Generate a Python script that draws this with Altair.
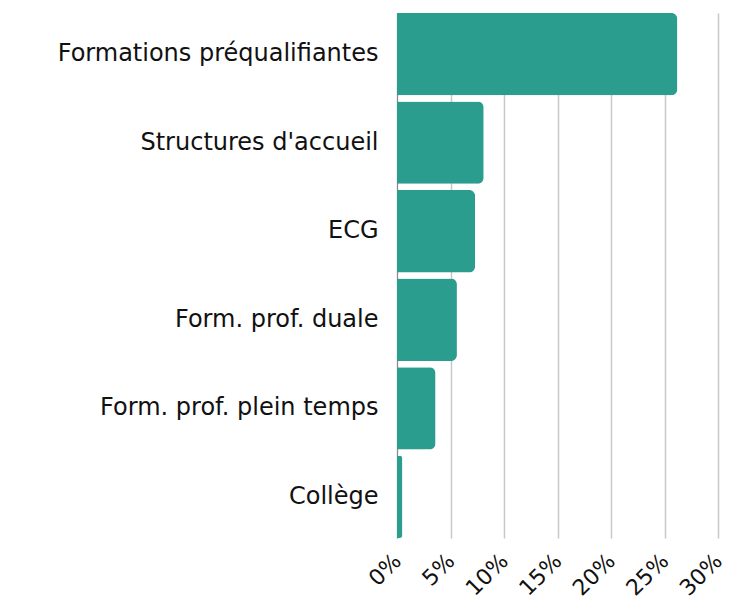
import altair as alt
import pandas as pd

categories = ["Formations préqualifiantes", "Structures d'accueil", "ECG",
              "Form. prof. duale", "Form. prof. plein temps", "Collège"]
values = [0.262, 0.081, 0.073, 0.056, 0.036, 0.005]

df = pd.DataFrame({"cat": categories, "val": values})

font = "DejaVu Sans"

chart = alt.Chart(df).mark_bar(color="#2a9d8f", cornerRadiusEnd=6).encode(
    y=alt.Y("cat:N", sort=categories, title=None,
            scale=alt.Scale(paddingInner=0.07, paddingOuter=0),
            axis=alt.Axis(labelFont=font, labelFontSize=24, labelColor="#111111",
                          labelPadding=19, ticks=False, domain=True, domainColor="#888888",
                          labelLimit=400)),
    x=alt.X("val:Q", title=None,
            scale=alt.Scale(domain=[0, 0.3]),
            axis=alt.Axis(format=".0%", values=[0, 0.05, 0.1, 0.15, 0.2, 0.25, 0.3],
                          labelAngle=-45, labelFont=font, labelFontSize=22, labelColor="#111111",
                          labelAlign="right", labelBaseline="middle", labelPadding=19,
                          labelOffset=0, labelOverlap=False, labelBound=False,
                          ticks=False, domain=False, grid=True, gridColor="#c8c8c8",
                          gridWidth=1.5))
).properties(
    width=321, height=525,
    autosize=alt.AutoSizeParams(type="none"),
    padding={"left": 389, "top": 5, "right": 9, "bottom": 63}
).configure_view(stroke=None)

chart.save("out.html", embed_options={"renderer": "svg", "actions": False})
